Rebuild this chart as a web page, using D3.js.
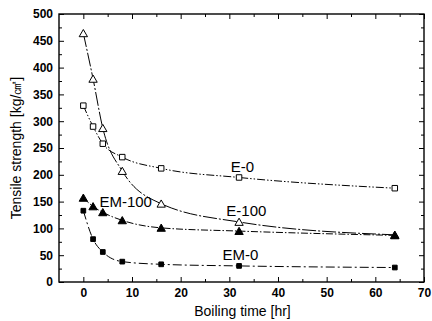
<!DOCTYPE html>
<html>
<head>
<meta charset="utf-8">
<script src="https://cdn.jsdelivr.net/npm/d3@7"></script>
<style>
  body { margin: 0; background: #fff; }
  svg { display: block; }
  .tick text { font-family: 'Liberation Sans', Arial, sans-serif; font-size: 12px; font-weight: bold; fill: #000; }
  .tick line { stroke: #000; stroke-width: 1; }
</style>
</head>
<body>
<div id="chart"></div>
<script>
// ---------- DATA ----------
const times = [0, 2, 4, 8, 16, 32, 64];
const e0 = [329, 290, 258, 233, 212, 195, 175];
const e100 = [464, 379, 287, 207, 146, 112, 88];
const em100 = [157, 141, 130, 115, 101, 95, 87];
const em0 = [133, 80, 56, 38, 33, 30, 27];

const xTicks = [0, 10, 20, 30, 40, 50, 60, 70];
const yTicks = [0, 50, 100, 150, 200, 250, 300, 350, 400, 450, 500];

const seriesNames = ['E-0', 'E-100', 'EM-100', 'EM-0'];
// label anchor in data units: [time, strength]
const labelTimes = [32.7, 33.5, 8.7, 32.3];
const labelValues = [205, 123, 140, 41];

// ---------- STYLE ----------
const styles = {
  'E-0':    { marker: 'square', filled: false, dash: '8,2,1.5,2,1.5,2' },
  'E-100':  { marker: 'triangle', filled: false, dash: '14,2,2,2' },
  'EM-100': { marker: 'triangle', filled: true, dash: '7,2,1.5,2' },
  'EM-0':   { marker: 'square', filled: true, dash: '9,3,2,3' },
};
const seriesValues = [e0, e100, em100, em0];

const width = 432, height = 321;
const margin = { left: 59, right: 8, top: 14, bottom: 39 };

const svg = d3.select('#chart').append('svg')
  .attr('width', width)
  .attr('height', height);

const x = d3.scaleLinear().domain([-5, 70]).range([margin.left, width - margin.right]);
const y = d3.scaleLinear().domain([0, 500]).range([height - margin.bottom, margin.top]);

// ---------- AXES ----------
const minorX = d3.range(-5, 71, 5).filter(v => v % 10 !== 0 && v > -5);
const minorY = d3.range(25, 500, 50);

svg.append('g')
  .attr('transform', `translate(0, ${y(0)})`)
  .call(d3.axisBottom(x).tickValues(xTicks).tickSizeInner(-5).tickSizeOuter(0).tickPadding(6))
  .call(g => g.select('.domain').remove());
svg.append('g')
  .attr('transform', `translate(0, ${y(0)})`)
  .call(d3.axisBottom(x).tickValues(minorX).tickSizeInner(-3).tickSizeOuter(0).tickFormat(''))
  .call(g => g.select('.domain').remove());
svg.append('g')
  .attr('transform', `translate(0, ${y(500)})`)
  .call(d3.axisTop(x).tickValues(xTicks).tickSizeInner(-5).tickSizeOuter(0).tickFormat(''))
  .call(g => g.select('.domain').remove());
svg.append('g')
  .attr('transform', `translate(0, ${y(500)})`)
  .call(d3.axisTop(x).tickValues(minorX).tickSizeInner(-3).tickSizeOuter(0).tickFormat(''))
  .call(g => g.select('.domain').remove());

svg.append('g')
  .attr('transform', `translate(${x(-5)}, 0)`)
  .call(d3.axisLeft(y).tickValues(yTicks).tickSizeInner(-5).tickSizeOuter(0).tickPadding(6))
  .call(g => g.select('.domain').remove());
svg.append('g')
  .attr('transform', `translate(${x(-5)}, 0)`)
  .call(d3.axisLeft(y).tickValues(minorY).tickSizeInner(-3).tickSizeOuter(0).tickFormat(''))
  .call(g => g.select('.domain').remove());
svg.append('g')
  .attr('transform', `translate(${x(70)}, 0)`)
  .call(d3.axisRight(y).tickValues(yTicks).tickSizeInner(-5).tickSizeOuter(0).tickFormat(''))
  .call(g => g.select('.domain').remove());
svg.append('g')
  .attr('transform', `translate(${x(70)}, 0)`)
  .call(d3.axisRight(y).tickValues(minorY).tickSizeInner(-3).tickSizeOuter(0).tickFormat(''))
  .call(g => g.select('.domain').remove());

// frame
svg.append('rect')
  .attr('x', x(-5))
  .attr('y', y(500))
  .attr('width', x(70) - x(-5))
  .attr('height', y(0) - y(500))
  .attr('fill', 'none')
  .attr('stroke', '#000')
  .attr('stroke-width', 1.4);

// axis titles
svg.append('text')
  .attr('x', (x(-5) + x(70)) / 2 + 1)
  .attr('y', 316)
  .attr('text-anchor', 'middle')
  .style('font-family', "'Liberation Sans', Arial, sans-serif")
  .style('font-size', '14px')
  .text('Boiling time [hr]');

svg.append('text')
  .attr('transform', `translate(21, ${(y(0) + y(500)) / 2}) rotate(-90)`)
  .attr('text-anchor', 'middle')
  .style('font-family', "'Liberation Sans', Arial, sans-serif")
  .style('font-size', '14px')
  .text('Tensile strength [kg/㎠]');

// ---------- LINES ----------
const line = d3.line()
  .x((d, i) => x(times[i]))
  .y(d => y(d))
  .curve(d3.curveMonotoneX);

seriesNames.forEach((name, k) => {
  const st = styles[name];
  const vals = seriesValues[k];

  svg.append('path')
    .attr('d', line(vals))
    .attr('fill', 'none')
    .attr('stroke', '#000')
    .attr('stroke-width', 1)
    .attr('stroke-dasharray', st.dash);

  const sym = d3.symbol()
    .type(st.marker === 'square' ? d3.symbolSquare : d3.symbolTriangle)
    .size(st.marker === 'square' ? (st.filled ? 22 : 30) : 30);

  svg.append('g')
    .selectAll('path')
    .data(vals)
    .enter()
    .append('path')
    .attr('d', sym)
    .attr('transform', (d, i) => `translate(${x(times[i])}, ${y(d) + (st.marker === 'triangle' ? 1 : 0)})`)
    .attr('fill', st.filled ? '#000' : '#fff')
    .attr('stroke', '#000')
    .attr('stroke-width', 1);

  svg.append('text')
    .attr('x', x(labelTimes[k]))
    .attr('y', y(labelValues[k]))
    .attr('text-anchor', 'middle')
    .style('font-family', "'Liberation Sans', Arial, sans-serif")
    .style('font-size', '15px')
    .text(name);
});
</script>
</body>
</html>
